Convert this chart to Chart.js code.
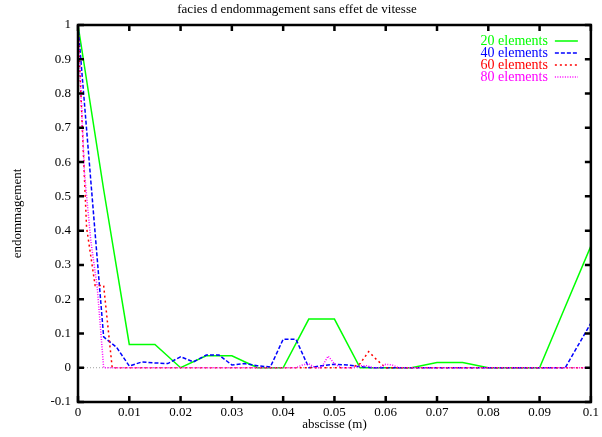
<!DOCTYPE html>
<html>
<head>
<meta charset="utf-8">
<script src="https://cdn.jsdelivr.net/npm/chart.js@4.4.1/dist/chart.umd.min.js"></script>
<style>
  body { margin: 0; background: #fff; }
  canvas { display: block; }
</style>
</head>
<body>
<canvas id="facies" width="602" height="437"></canvas>
<script>
// damage profiles, one value per mesh node (bar length 0.1 m)
const labels20 = '20 elements';
const values20 = [1.0, 0.52, 0.068, 0.068, 0.0, 0.035, 0.035, 0.0, 0.0, 0.142, 0.142,
  0.0, 0.0, 0.0, 0.015, 0.015, 0.0, 0.0, 0.0, 0.178, 0.355];

const labels40 = '40 elements';
const values40 = [1.0, 0.545, 0.09, 0.06, 0.005, 0.017, 0.014, 0.012, 0.032, 0.017, 0.037,
  0.037, 0.008, 0.012, 0.006, 0.002, 0.083, 0.083, 0.0, 0.006, 0.01,
  0.008, 0.003, 0, 0, 0, 0, 0, 0, 0, 0,
  0, 0, 0, 0, 0, 0, 0, 0, 0.065, 0.13];

const labels60 = '60 elements';
const values60 = [1.0, 0.41, 0.24, 0.24, 0, 0, 0, 0, 0, 0, 0,
  0, 0, 0, 0, 0, 0, 0, 0, 0, 0,
  0, 0, 0, 0, 0, 0, 0, 0, 0, 0,
  0, 0, 0.012, 0.047, 0.022, 0, 0, 0, 0, 0,
  0, 0, 0, 0, 0, 0, 0, 0, 0, 0,
  0, 0, 0, 0, 0, 0, 0, 0, 0, 0];

const labels80 = '80 elements';
const values80 = [1.0, 0.57, 0.37, 0.235, 0, 0, 0, 0, 0, 0, 0,
  0, 0, 0, 0, 0, 0, 0, 0, 0, 0,
  0, 0, 0, 0, 0, 0, 0, 0, 0, 0,
  0, 0, 0, 0, 0.008, 0.012, 0, 0, 0.034, 0.012,
  0, 0, 0, 0.006, 0.006, 0, 0, 0.01, 0.008, 0,
  0, 0, 0, 0, 0, 0, 0, 0, 0, 0,
  0, 0, 0, 0, 0, 0, 0, 0, 0, 0,
  0, 0, 0, 0, 0, 0, 0, 0, 0, 0];

const xTicks = [0, 0.01, 0.02, 0.03, 0.04, 0.05, 0.06, 0.07, 0.08, 0.09, 0.1];
const yTicks = [-0.1, 0, 0.1, 0.2, 0.3, 0.4, 0.5, 0.6, 0.7, 0.8, 0.9, 1];

const barLength = 0.1;
const serif = 'Liberation Serif, Times New Roman, serif';

// attach each value to its node abscissa
function profile(values) {
  const n = values.length - 1;
  return values.map((v, i) => ({ x: i * barLength / n, y: v }));
}

function series(label, values, color, dash, order) {
  return {
    label: label,
    data: profile(values),
    borderColor: color,
    backgroundColor: color,
    borderWidth: 1.5,
    borderDash: dash,
    pointRadius: 0,
    tension: 0,
    fill: false,
    order: order
  };
}

// gnuplot style box: thick border, inward ticks on all sides, dotted zero axis
const framePlugin = {
  id: 'frame',
  beforeDatasetsDraw(chart) {
    const { ctx, chartArea: a, scales } = chart;
    const y0 = scales.y.getPixelForValue(0);
    ctx.save();
    ctx.strokeStyle = '#a0a0a0';
    ctx.lineWidth = 1;
    ctx.setLineDash([1, 2]);
    ctx.beginPath();
    ctx.moveTo(a.left, y0);
    ctx.lineTo(a.right, y0);
    ctx.stroke();
    ctx.restore();
  },
  afterDatasetsDraw(chart) {
    const { ctx, chartArea: a, scales } = chart;
    const len = 6;
    ctx.save();
    ctx.strokeStyle = '#000';
    ctx.lineWidth = 2.5;
    ctx.beginPath();
    xTicks.forEach(t => {
      const px = scales.x.getPixelForValue(t);
      ctx.moveTo(px, a.bottom); ctx.lineTo(px, a.bottom - len);
      ctx.moveTo(px, a.top); ctx.lineTo(px, a.top + len);
    });
    yTicks.forEach(t => {
      const py = scales.y.getPixelForValue(t);
      ctx.moveTo(a.left, py); ctx.lineTo(a.left + len, py);
      ctx.moveTo(a.right, py); ctx.lineTo(a.right - len, py);
    });
    ctx.stroke();
    ctx.strokeRect(a.left, a.top, a.right - a.left, a.bottom - a.top);
    ctx.restore();
  }
};

// key in the top right corner: coloured text, then the line sample
const keyPlugin = {
  id: 'key',
  afterDraw(chart) {
    const { ctx, chartArea: a } = chart;
    ctx.save();
    ctx.font = '14px ' + serif;
    ctx.textAlign = 'right';
    ctx.textBaseline = 'middle';
    chart.data.datasets.forEach((ds, i) => {
      const y = a.top + 16 + i * 12;
      const textRight = a.right - 43;
      ctx.fillStyle = ds.borderColor;
      ctx.fillText(ds.label, textRight, y);
      ctx.strokeStyle = ds.borderColor;
      ctx.lineWidth = 1.5;
      ctx.setLineDash(ds.borderDash);
      ctx.beginPath();
      ctx.moveTo(textRight + 7, y);
      ctx.lineTo(textRight + 30, y);
      ctx.stroke();
    });
    ctx.restore();
  }
};

document.addEventListener('DOMContentLoaded', () => {
  const ctx = document.getElementById('facies').getContext('2d');
  new Chart(ctx, {
    type: 'line',
    data: {
      datasets: [
        series(labels20, values20, '#00ff00', [], 4),
        series(labels40, values40, '#0000ff', [4, 2], 3),
        series(labels60, values60, '#ff0000', [2, 3], 2),
        series(labels80, values80, '#ff00ff', [1, 1.5], 1)
      ]
    },
    options: {
      responsive: false,
      animation: false,
      layout: { padding: { left: 0, right: 8, top: 0, bottom: 0 } },
      plugins: {
        legend: { display: false },
        tooltip: { enabled: false },
        title: {
          display: true,
          text: 'facies d endommagement sans effet de vitesse',
          color: '#000',
          font: { family: serif, size: 13, weight: 'normal' },
          padding: { top: 2, bottom: 7.4 }
        }
      },
      scales: {
        x: {
          type: 'linear',
          min: 0,
          max: barLength,
          afterBuildTicks: s => { s.ticks = xTicks.map(v => ({ value: v })); },
          afterFit: s => { s.height = 35; },
          grid: { display: false, drawTicks: false },
          border: { display: false },
          ticks: {
            color: '#000',
            padding: 3,
            maxRotation: 0,
            font: { family: serif, size: 13 },
            callback: v => String(+v.toFixed(2))
          },
          title: {
            display: true,
            text: 'abscisse (m)',
            color: '#000',
            font: { family: serif, size: 13 },
            padding: { top: 0, bottom: 5 }
          }
        },
        y: {
          min: -0.1,
          max: 1,
          afterBuildTicks: s => { s.ticks = yTicks.map(v => ({ value: v })); },
          afterFit: s => { s.width = 78; },
          grid: { display: false, drawTicks: false },
          border: { display: false },
          ticks: {
            color: '#000',
            padding: 7,
            font: { family: serif, size: 13 },
            callback: v => String(+v.toFixed(1))
          },
          title: {
            display: true,
            text: 'endommagement',
            color: '#000',
            font: { family: serif, size: 13 },
            padding: { top: 10, bottom: 0 }
          }
        }
      }
    },
    plugins: [framePlugin, keyPlugin]
  });
});
</script>
</body>
</html>
